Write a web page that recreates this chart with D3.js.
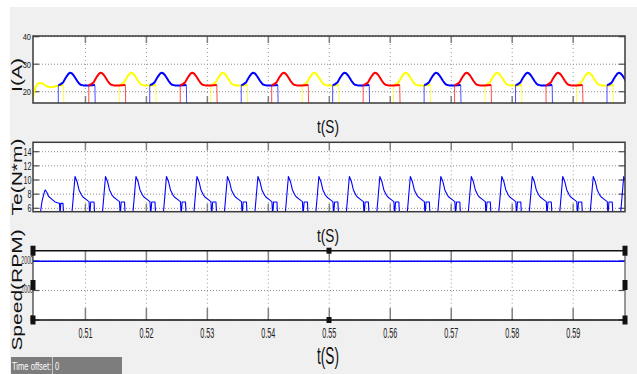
<!DOCTYPE html>
<html><head><meta charset="utf-8">
<script src="https://cdn.jsdelivr.net/npm/d3@7"></script>
<style>
body{margin:0;background:#fff;}
svg{display:block;font-family:Arial,"Liberation Sans",sans-serif;}
</style>
</head><body>
<svg id="c" width="637" height="374"></svg>
<script>
// ---------------- DATA ----------------
const timeDomain = [0.5014, 0.5985];
const xTicks = [0.51, 0.52, 0.53, 0.54, 0.55, 0.56, 0.57, 0.58, 0.59];
const xTickLabels = ["0.51", "0.52", "0.53", "0.54", "0.55", "0.56", "0.57", "0.58", "0.59"];

const currentYDomain = [15.9, 40.25];
const currentYTicks = [20, 30, 40];
const torqueYDomain = [5.52, 15.33];
const torqueYTicks = [6, 8, 10, 12, 14];
const speedYDomain = [0, 2350];
const speedYTicks = [0, 1000, 2000];
const speedYTickLabels = ["0", "1000", "2000"];

// phase currents: one conduction pulse shape (offset from turn-on [s], current [A])
const currentPulseDt = [0.00001, 0.0003, 0.0008, 0.0011, 0.0014, 0.0017, 0.0019, 0.0022, 0.0025, 0.0028, 0.0031, 0.0034, 0.0037, 0.0041, 0.0050, 0.0060];
const currentPulseI  = [22.4, 22.6, 23.4, 24.6, 25.7, 26.6, 26.9, 26.7, 26.0, 25.0, 23.9, 23.0, 22.5, 22.3, 22.3, 22.4];
const currentOffDt = 0.00018;   // fall time of the turn-off edge
// turn-on instants
const phaseYellowOn = [0.51555, 0.53055, 0.54555, 0.56055, 0.57555, 0.59055];
const phaseBlueOn   = [0.50555, 0.52055, 0.53555, 0.55055, 0.56555, 0.58055, 0.59555];
const phaseRedOn    = [0.51055, 0.52555, 0.54055, 0.55555, 0.57055, 0.58555];
// first (partial) yellow pulse at the left edge
const yellowStartT = [0.5010, 0.5014, 0.5018, 0.5021, 0.5025, 0.5030, 0.5036, 0.5042, 0.5048, 0.5055, 0.5064];
const yellowStartI = [15, 18.2, 21.5, 22.8, 23.2, 23.0, 22.0, 21.6, 21.8, 22.2, 22.4];

// torque: one pulse shape (offset from rise [s], torque [N*m])
const torquePulseDt = [0, 0.00025, 0.00054, 0.00087, 0.0012, 0.00159, 0.00185, 0.0023, 0.00267, 0.00284, 0.00295, 0.00312, 0.00366, 0.00377];
const torquePulseT  = [5.0, 7.5, 10.5, 9.8, 8.6, 7.9, 7.6, 7.3, 7.05, 6.95, 5.0, 6.9, 6.9, 5.0];
const torqueRise = [0.50775, 0.51275, 0.51775, 0.52275, 0.52775, 0.53275, 0.53775, 0.54275, 0.54775, 0.55275,
                    0.55775, 0.56275, 0.56775, 0.57275, 0.57775, 0.58275, 0.58775, 0.59275, 0.59775];
const torqueFirstT = [0.5020, 0.50255, 0.50288, 0.50329, 0.50342, 0.5037, 0.50394, 0.50447, 0.50501, 0.50555, 0.50575, 0.50583, 0.50596, 0.50632, 0.50642];
const torqueFirstV = [5.0, 5.0, 7.0, 8.4, 8.6, 8.2, 7.7, 7.3, 6.9, 6.75, 6.7, 5.0, 6.7, 6.7, 5.0];

// speed
const speedT = [0.5014, 0.5985];
const speedV = [1990, 1990];

// ---------------- DRAW ----------------
const svg = d3.select("#c");
const W = 637, H = 374;
svg.append("rect").attr("x", 10).attr("y", 7).attr("width", W - 10).attr("height", H - 7).attr("fill", "#f0f0f0");

const x = d3.scaleLinear().domain(timeDomain).range([33, 625]);

function scaledText(g, str, px, py, size, sx, sy, anchor, rot) {
  return g.append("text")
    .attr("transform", `translate(${px},${py})` + (rot ? ` rotate(${rot})` : "") + ` scale(${sx},${sy})`)
    .attr("text-anchor", anchor || "middle")
    .attr("dominant-baseline", "central")
    .attr("font-size", size)
    .text(str);
}

function panel(id, top, bottom, yDomain, yTicks, opt) {
  const y = d3.scaleLinear().domain(yDomain).range([bottom, top]);
  const g = svg.append("g");
  g.append("rect").attr("x", 33).attr("y", top).attr("width", 592).attr("height", bottom - top).attr("fill", "#fff");
  svg.append("clipPath").attr("id", "clip" + id).append("rect")
    .attr("x", 33).attr("y", top).attr("width", 592).attr("height", bottom - top);
  g.selectAll(".hg").data(yTicks).join("line")
    .attr("x1", 33).attr("x2", 625).attr("y1", d => y(d)).attr("y2", d => y(d))
    .attr("stroke", "#8a8a8a").attr("stroke-width", 1).attr("stroke-dasharray", "1,2");
  g.selectAll(".vg").data(xTicks).join("line")
    .attr("x1", d => x(d)).attr("x2", d => x(d)).attr("y1", top).attr("y2", bottom)
    .attr("stroke", "#9a9a9a").attr("stroke-width", 1).attr("stroke-dasharray", "1,3");
  const tl = opt.tickLen;
  g.selectAll(".tt").data(xTicks).join("line")
    .attr("x1", d => x(d)).attr("x2", d => x(d)).attr("y1", top).attr("y2", top + tl)
    .attr("stroke", "#808080").attr("stroke-width", 1.5);
  g.selectAll(".tb").data(xTicks).join("line")
    .attr("x1", d => x(d)).attr("x2", d => x(d)).attr("y1", bottom).attr("y2", bottom - tl)
    .attr("stroke", "#808080").attr("stroke-width", 1.5);
  g.selectAll(".tlft").data(yTicks).join("line")
    .attr("x1", 33).attr("x2", 39).attr("y1", d => y(d)).attr("y2", d => y(d))
    .attr("stroke", "#505050").attr("stroke-width", 1.2);
  g.selectAll(".trgt").data(yTicks).join("line")
    .attr("x1", 619).attr("x2", 625).attr("y1", d => y(d)).attr("y2", d => y(d))
    .attr("stroke", "#505050").attr("stroke-width", 1.2);
  return { y, g, clip: "url(#clip" + id + ")" };
}

function frame(top, bottom, color) {
  svg.append("rect").attr("x", 33).attr("y", top).attr("width", 592).attr("height", bottom - top)
    .attr("fill", "none").attr("stroke", color).attr("stroke-width", 1.5);
}

// ---- current panel ----
const P1 = panel(1, 36, 103, currentYDomain, currentYTicks, { tickLen: 7 });
const line1 = d3.line().x(d => x(d[0])).y(d => P1.y(d[1]));
const gCur = svg.append("g").attr("clip-path", P1.clip).attr("fill", "none").attr("stroke-linejoin", "round");
function drawPhase(onTimes, color, lead) {
  const g = gCur.append("g");
  // thin switching edges
  const edges = [];
  onTimes.forEach(t0 => {
    edges.push([[t0, 0], [t0, currentPulseI[0]]]);
    const tEnd = t0 + currentPulseDt[currentPulseDt.length - 1];
    edges.push([[tEnd, currentPulseI[currentPulseI.length - 1]], [tEnd + currentOffDt, 0]]);
  });
  if (lead) {
    const tl = lead[lead.length - 1];
    edges.push([tl, [tl[0] + currentOffDt, 0]]);
  }
  edges.forEach(e => g.append("path").attr("d", line1(e)).attr("stroke", color).attr("stroke-width", 1).attr("stroke-opacity", 0.7));
  // conduction humps
  if (lead) g.append("path").attr("d", line1(lead)).attr("stroke", color).attr("stroke-width", 2);
  onTimes.forEach(t0 => {
    const pts = currentPulseDt.map((dt, i) => [t0 + dt, currentPulseI[i]]);
    g.append("path").attr("d", line1(pts)).attr("stroke", color).attr("stroke-width", 2);
  });
}
drawPhase(phaseYellowOn, "#ffff00", yellowStartT.map((t, i) => [t, yellowStartI[i]]));
drawPhase(phaseBlueOn, "#0000ff");
drawPhase(phaseRedOn, "#ff0000");
frame(36, 103, "#3a3a3a");
currentYTicks.forEach(v => scaledText(svg, String(v), 31, P1.y(v), 7.5, 1, 1.3, "end").attr("fill", "#222"));

// ---- torque panel ----
const P2 = panel(2, 142.3, 211.7, torqueYDomain, torqueYTicks, { tickLen: 8 });
const line2 = d3.line().x(d => x(d[0])).y(d => P2.y(d[1]));
const torquePts = torqueFirstT.map((t, i) => [t, torqueFirstV[i]]);
torqueRise.forEach(t0 => torquePulseDt.forEach((dt, i) => torquePts.push([t0 + dt, torquePulseT[i]])));
svg.append("g").attr("clip-path", P2.clip).append("path").attr("d", line2(torquePts))
  .attr("fill", "none").attr("stroke", "#0000ff").attr("stroke-width", 1.1).attr("stroke-linejoin", "round");
frame(142.3, 211.7, "#3a3a3a");
torqueYTicks.forEach(v => scaledText(svg, String(v), 31.5, P2.y(v), 7.5, 0.95, 1.5, "end").attr("fill", "#222"));

// ---- speed panel ----
const P3 = panel(3, 250.7, 320, speedYDomain, speedYTicks, { tickLen: 12 });
const line3 = d3.line().x(d => x(d[0])).y(d => P3.y(d[1]));
svg.append("g").attr("clip-path", P3.clip).append("path").attr("d", line3(speedT.map((t, i) => [t, speedV[i]])))
  .attr("fill", "none").attr("stroke", "#0000ff").attr("stroke-width", 1.5);
svg.append("line").attr("x1", 33).attr("x2", 625).attr("y1", 250.7).attr("y2", 250.7).attr("stroke", "#111").attr("stroke-width", 1.6);
svg.append("line").attr("x1", 33).attr("x2", 625).attr("y1", 320).attr("y2", 320).attr("stroke", "#111").attr("stroke-width", 1.6);
svg.append("line").attr("x1", 33).attr("x2", 33).attr("y1", 250.7).attr("y2", 320).attr("stroke", "#333").attr("stroke-width", 1.2);
svg.append("line").attr("x1", 625).attr("x2", 625).attr("y1", 250.7).attr("y2", 320).attr("stroke", "#555").attr("stroke-width", 1.2);
speedYTicks.forEach((v, i) => scaledText(svg, speedYTickLabels[i], 33, P3.y(v) - 1, 7, 0.75, 1.5, "end").attr("fill", "#333"));
const handles = [[33, 250.7, 5, 10], [329, 250.7, 5, 6], [625, 250.7, 5, 10],
                 [33, 285, 5, 10], [625, 285, 5, 10],
                 [33, 320, 5, 9], [329, 320, 5, 6], [625, 320, 5, 9]];
handles.forEach(h => svg.append("rect").attr("x", h[0] - h[2] / 2).attr("y", h[1] - h[3] / 2)
  .attr("width", h[2]).attr("height", h[3]).attr("fill", "#111"));

// x tick labels
xTicks.forEach((v, i) => scaledText(svg, xTickLabels[i], x(v), 333, 9, 0.8, 1.6, "middle").attr("fill", "#222"));

// axis titles
scaledText(svg, "t(S)", 328, 126, 13, 1.05, 1.45, "middle").attr("fill", "#111");
scaledText(svg, "t(S)", 328, 235, 13, 1.05, 1.45, "middle").attr("fill", "#111");
scaledText(svg, "t(S)", 328, 355, 13, 1.05, 1.85, "middle").attr("fill", "#111");
scaledText(svg, "I(A)", 17.5, 75, 14, 1.5, 1.0, "middle", -90).attr("fill", "#111");
scaledText(svg, "Te(N*m)", 17, 177, 14, 1.5, 1.0, "middle", -90).attr("fill", "#111");
scaledText(svg, "Speed(RPM)", 17, 290, 14, 1.5, 1.0, "middle", -90).attr("fill", "#111");

// time offset box
svg.append("rect").attr("x", 11).attr("y", 357).attr("width", 111).attr("height", 17).attr("fill", "#7d7d7d");
svg.append("line").attr("x1", 52.5).attr("x2", 52.5).attr("y1", 357).attr("y2", 374).attr("stroke", "#c8c8c8").attr("stroke-width", 1);
scaledText(svg, "Time offset:", 12, 366, 8, 0.95, 1.4, "start").attr("fill", "#fff");
scaledText(svg, "0", 55, 366, 8, 0.95, 1.4, "start").attr("fill", "#fff");
</script>
</body></html>
